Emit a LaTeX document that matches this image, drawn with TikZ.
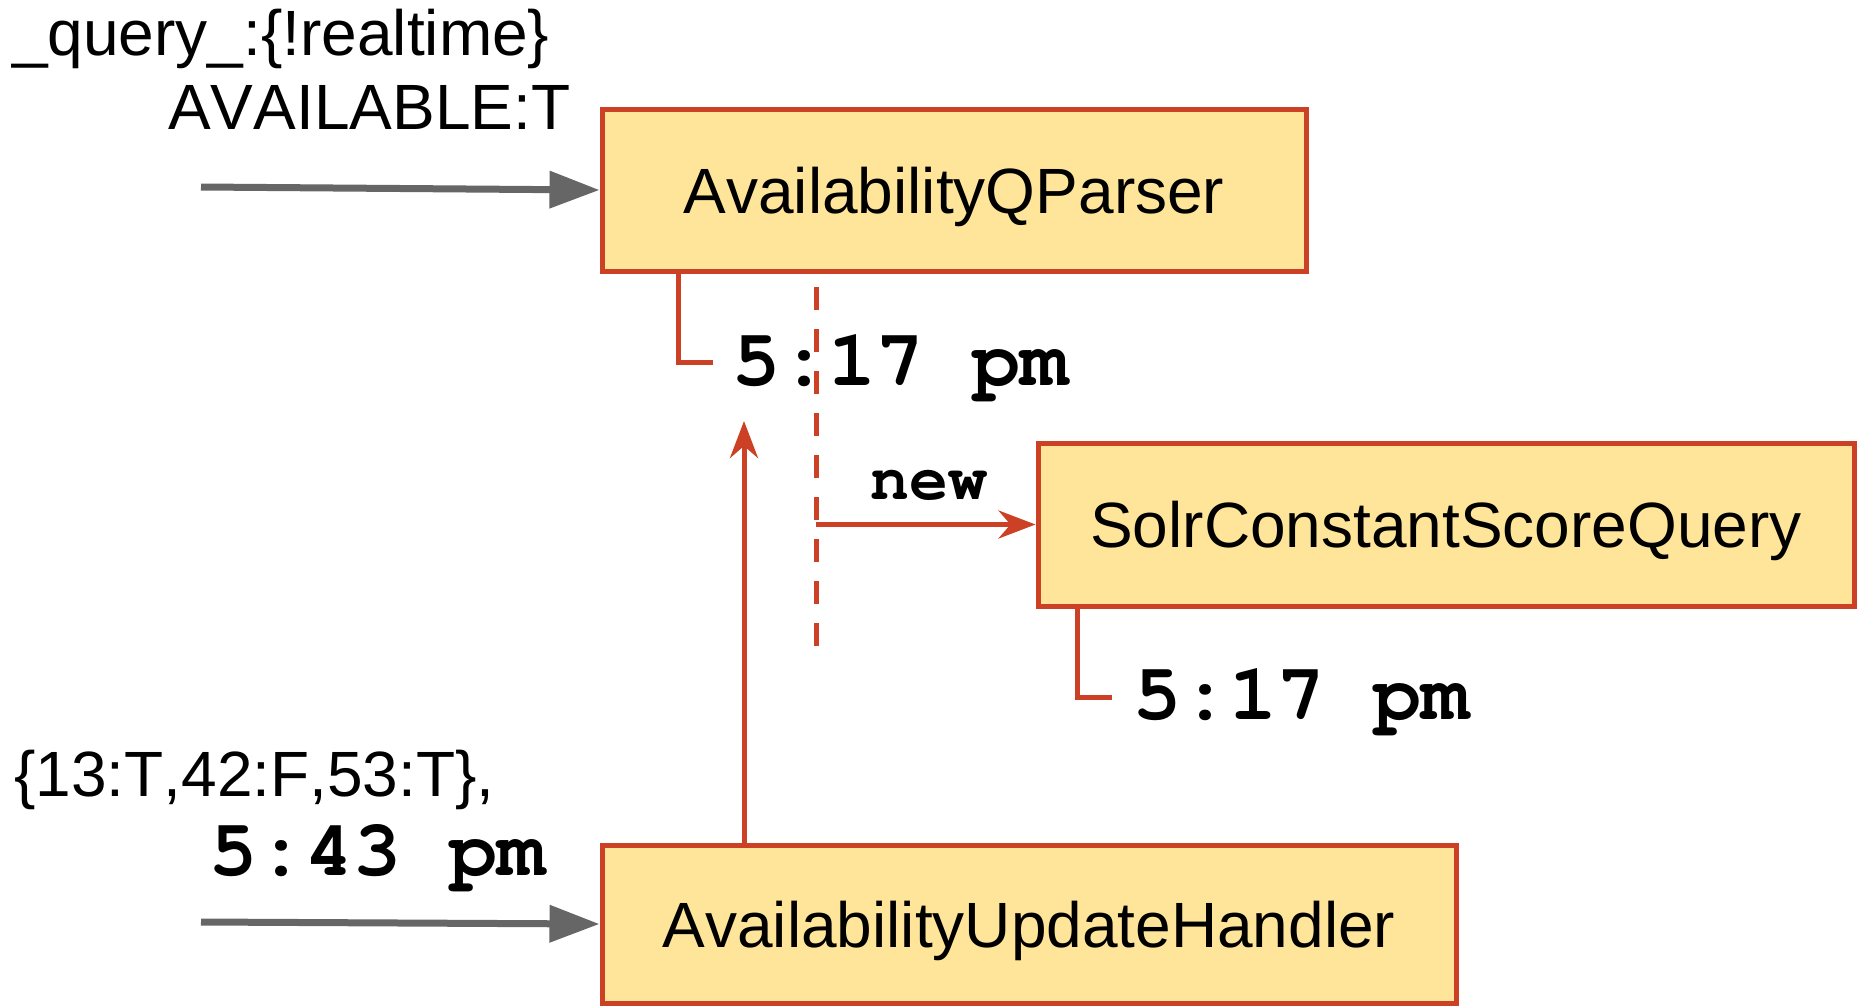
\documentclass[tikz,border=0pt]{standalone}
\usepackage{fontspec}
\setmainfont{Liberation Sans}[Kerning=Off]
\newfontfamily\cour{TeX Gyre Cursor}
\usetikzlibrary{arrows.meta}
\definecolor{boxred}{HTML}{CC4125}
\definecolor{boxfill}{HTML}{FFE599}
\definecolor{arrgray}{HTML}{666666}
\tikzset{
  classbox/.style={draw=boxred, fill=boxfill, line width=5pt, inner sep=0pt,
    text height=46pt, text depth=0pt, font=\fontsize{64}{76}\selectfont},
  plainlabel/.style={inner sep=0pt, anchor=base west, font=\fontsize{64}{76}\selectfont},
  timelabel/.style={inner sep=0pt, anchor=base west, font=\cour\bfseries\fontsize{80}{90}\selectfont},
  newlabel/.style={inner sep=0pt, anchor=base west, font=\cour\bfseries\fontsize{65}{70}\selectfont},
  grayarrow/.style={draw=arrgray, line width=7pt, -{Triangle[length=50pt,width=36pt]}},
  redarrow/.style={draw=boxred, line width=5pt, -{Stealth[length=37pt,width=28pt,inset=12pt]}},
  redline/.style={draw=boxred, line width=5pt},
  reddash/.style={draw=boxred, line width=5pt, dash pattern=on 23pt off 19pt},
}
\begin{document}
\begin{tikzpicture}[x=1pt, y=-1pt]
\useasboundingbox (0,0) rectangle (1858,1007);
% boxes
\node[classbox, minimum width=704pt, minimum height=162pt] (qparser) at (954,190) {AvailabilityQParser};
\node[classbox, minimum width=816pt, minimum height=163pt] (solr) at (1446,524.5) {SolrConstantScoreQuery};
\node[classbox, minimum width=854pt, minimum height=158pt] (handler) at (1029,924) {AvailabilityUpdateHandler};
% left labels
\node[plainlabel] (q1) at (12,55) {\_query\_:\{!realtime\}};
\node[plainlabel] (q2) at (168,129) {AVAILABLE:T};
\node[plainlabel] (u1) at (14,796) {\{13:T,42:F,53:T\},};
\node[timelabel] (t543) at (209,875) {5:43 pm};
% time labels
\node[timelabel] (t517a) at (732,385) {5:17 pm};
\node[timelabel] (t517b) at (1133,719) {5:17 pm};
\node[newlabel] (newlbl) at (870,499) {new};
% coordinates
\coordinate (in1) at (201,187);
\coordinate (in2) at (201,922);
\coordinate (k1corner) at (678,362);
\coordinate (k1) at (713,362);
\coordinate (k2corner) at (1077,697);
\coordinate (k2) at (1112,697);
\coordinate (dtop) at (816,287);
\coordinate (dbot) at (816,647);
\coordinate (newstart) at (816,524.5);
\coordinate (uptip) at (744,421);
% connectors
\draw[grayarrow] (in1) -- (qparser.west);
\draw[grayarrow] (in2) -- (handler.west);
\draw[redline] (qparser.south -| k1corner) |- (k1);
\draw[redline] (solr.south -| k2corner) |- (k2);
\draw[reddash] (dtop) -- (dbot);
\draw[redarrow] (newstart) -- (solr.west);
\draw[redarrow] (handler.north -| uptip) -- (uptip);
\end{tikzpicture}
\end{document}
